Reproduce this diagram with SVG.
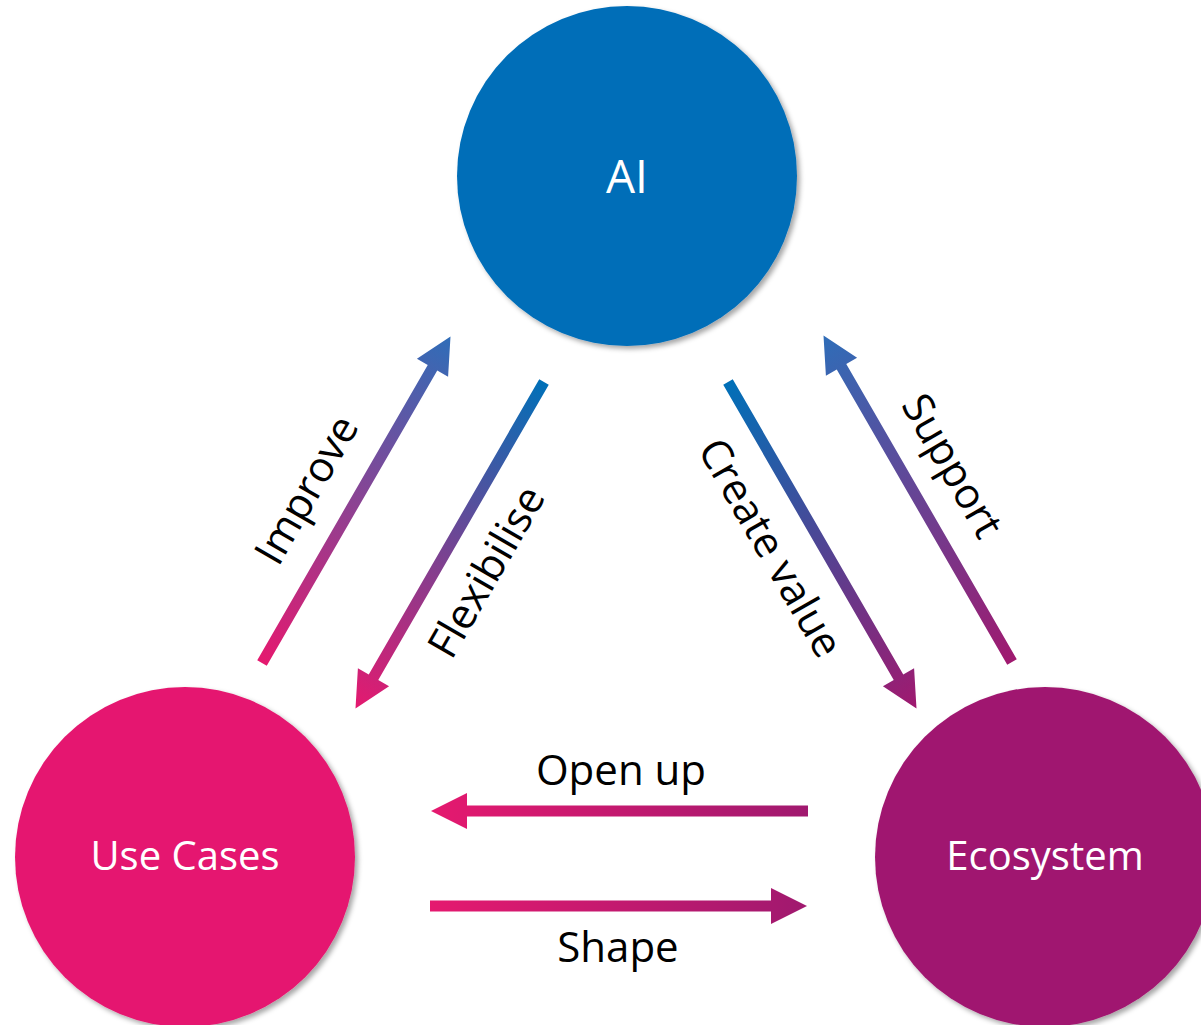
<svg xmlns="http://www.w3.org/2000/svg" width="1201" height="1025" viewBox="0 0 1201 1025">
  <style>
    .node-label { font-family: "Open Sans", "Liberation Sans", sans-serif; fill: #ffffff; text-anchor: middle; }
    .edge-label { font-family: "Open Sans", "Liberation Sans", sans-serif; fill: #000000; font-size: 42px; text-anchor: middle; }
  </style>
  <defs>
    <filter id="shadow" x="-20%" y="-20%" width="140%" height="140%">
      <feDropShadow dx="3" dy="3" stdDeviation="2.5" flood-color="#000" flood-opacity="0.35"/>
    </filter>
    <linearGradient id="g-pink-blue" x1="0" y1="0" x2="1" y2="0"><stop offset="0" stop-color="#E5196F"/><stop offset="1" stop-color="#2F6DB8"/></linearGradient>
    <linearGradient id="g-blue-pink" x1="0" y1="0" x2="1" y2="0"><stop offset="0" stop-color="#0070B8"/><stop offset="1" stop-color="#E5196F"/></linearGradient>
    <linearGradient id="g-blue-purple" x1="0" y1="0" x2="1" y2="0"><stop offset="0" stop-color="#0070B8"/><stop offset="1" stop-color="#A0196F"/></linearGradient>
    <linearGradient id="g-purple-blue" x1="0" y1="0" x2="1" y2="0"><stop offset="0" stop-color="#A0196F"/><stop offset="1" stop-color="#2F6DB8"/></linearGradient>
    <linearGradient id="g-pink-purple" x1="0" y1="0" x2="1" y2="0"><stop offset="0" stop-color="#E5196F"/><stop offset="1" stop-color="#A0196F"/></linearGradient>
    <linearGradient id="g-purple-pink" x1="0" y1="0" x2="1" y2="0"><stop offset="0" stop-color="#A0196F"/><stop offset="1" stop-color="#E5196F"/></linearGradient>
    <path id="arrow" d="M0,-5.5 H341 V-18 L377,0 L341,18 V5.5 H0 Z"/>
  </defs>
  <rect width="1201" height="1025" fill="#ffffff"/>

  <g id="node-ai">
    <circle cx="627" cy="176" r="170" fill="#036EB8" filter="url(#shadow)"/>
    <text class="node-label" x="627" y="193" font-size="46">AI</text>
  </g>
  <g id="node-use-cases">
    <circle cx="185" cy="857" r="170" fill="#E5196F" filter="url(#shadow)"/>
    <text class="node-label" x="185" y="870" font-size="40">Use Cases</text>
  </g>
  <g id="node-ecosystem">
    <circle cx="1045" cy="857" r="170" fill="#A0196F" filter="url(#shadow)"/>
    <text class="node-label" x="1045" y="870" font-size="40">Ecosystem</text>
  </g>

  <g id="connectors">
    <use href="#arrow" fill="url(#g-pink-blue)" transform="translate(262,663) rotate(-60)"/>
    <use href="#arrow" fill="url(#g-blue-pink)" transform="translate(544,382) rotate(120)"/>
    <use href="#arrow" fill="url(#g-blue-purple)" transform="translate(728,382) rotate(60)"/>
    <use href="#arrow" fill="url(#g-purple-blue)" transform="translate(1012,662) rotate(-120)"/>
    <g transform="translate(808,811) rotate(180)"><use href="#arrow" fill="url(#g-purple-pink)"/></g>
    <use href="#arrow" fill="url(#g-pink-purple)" transform="translate(430,906)"/>
  </g>

  <g id="edge-labels">
    <text class="edge-label" transform="translate(319,497) rotate(-60)">Improve</text>
    <text class="edge-label" transform="translate(499,579) rotate(-60)">Flexibilise</text>
    <text class="edge-label" transform="translate(758,555) rotate(60)">Create value</text>
    <text class="edge-label" transform="translate(940,473) rotate(60)">Support</text>
    <text class="edge-label" x="621" y="785">Open up</text>
    <text class="edge-label" x="618" y="962">Shape</text>
  </g>
</svg>
